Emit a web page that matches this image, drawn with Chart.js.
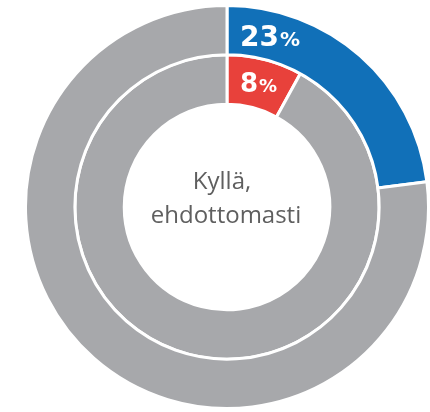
<!DOCTYPE html>
<html>
<head>
<meta charset="utf-8">
<script src="https://cdn.jsdelivr.net/npm/chart.js@4"></script>
<style>
  html, body { margin: 0; padding: 0; background: #fff; }
  #wrap { width: 430px; height: 412px; position: relative; }
</style>
</head>
<body>
<div id="wrap"><canvas id="chart"></canvas></div>
<script>
// Values
const outerValues = [23, 77];
const innerValues = [8, 92];
const outerColors = ['#1170b8', '#a7a8ab'];
const innerColors = ['#e8413b', '#a7a8ab'];
const centerLines = ['Kyllä,', 'ehdottomasti'];

// draws "23%" style labels at the start of the first slice in each ring
const pctLabels = {
    id: 'pctLabels',
    afterDatasetsDraw(chart) {
        const c = chart.ctx;
        const sizes = [28, 26];
        chart.data.datasets.forEach((ds, i) => {
            const arc = chart.getDatasetMeta(i).data[0];
            const mid = (arc.innerRadius + arc.outerRadius) / 2;
            const x = arc.x + 13;
            const y = arc.y - mid + (i === 0 ? 9 : 6);
            const big = String(ds.data[0]);
            c.save();
            c.fillStyle = '#fff';
            c.textBaseline = 'middle';
            c.textAlign = 'left';
            c.font = 'bold ' + sizes[i] + 'px "DejaVu Sans", sans-serif';
            c.fillText(big, x, y);
            const w = c.measureText(big).width;
            c.font = 'bold ' + Math.round(sizes[i] * 0.7) + 'px "DejaVu Sans", sans-serif';
            c.fillText('%', x + w + 1, y + 2);
            c.restore();
        });
        // center text
        const a = chart.getDatasetMeta(0).data[0];
        c.save();
        c.fillStyle = '#5f5f5f';
        c.textAlign = 'center';
        c.textBaseline = 'alphabetic';
        c.font = '24px "Open Sans", sans-serif';
        c.fillText(centerLines[0], a.x - 5, a.y - 18);
        c.fillText(centerLines[1], a.x - 1, a.y + 16);
        c.restore();
    }
};

new Chart(document.getElementById('chart'), {
    type: 'doughnut',
    data: {
        labels: ['Kyllä, ehdottomasti', 'Muut'],
        datasets: [
            { data: outerValues, backgroundColor: outerColors, borderColor: '#fff', borderWidth: 3 },
            { data: innerValues, backgroundColor: innerColors, borderColor: '#fff', borderWidth: 3 }
        ]
    },
    options: {
        responsive: true,
        maintainAspectRatio: false,
        animation: false,
        cutout: '51%',
        layout: { padding: { left: 24, right: 0, top: 3, bottom: 1 } },
        plugins: {
            legend: { display: false },
            tooltip: { enabled: false }
        }
    },
    plugins: [pctLabels]
});
</script>
</body>
</html>
